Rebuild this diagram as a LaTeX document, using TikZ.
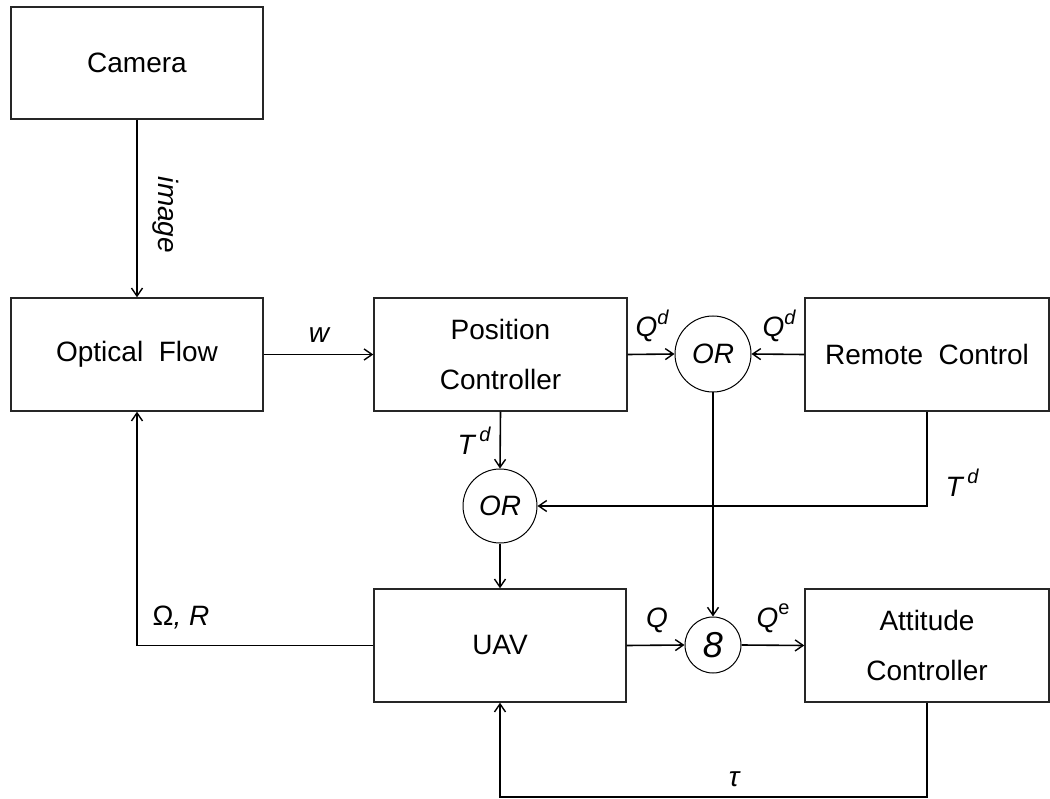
\documentclass[tikz,border=0pt]{standalone}
\usepackage{fontspec}
\setmainfont{Liberation Sans}
\usetikzlibrary{arrows.meta,calc}
\tikzset{
  blk/.style={draw=black!85, line width=1.4pt, rectangle, inner sep=0pt, align=center, font=\fontsize{28}{50}\selectfont},
  junc/.style={draw=black, line width=1pt, circle, inner sep=0pt, font=\fontsize{28}{34}\selectfont\itshape},
  lbl/.style={inner sep=0pt, font=\fontsize{28}{34}\selectfont\itshape},
  conn/.style={line width=1.6pt, -{Straight Barb[length=8pt,width=11pt,line width=1.4pt]}},
  line/.style={line width=1.6pt}
}
\newcommand{\sups}[1]{\raisebox{0.45em}{\fontsize{20}{22}\selectfont #1}}
\begin{document}
\begin{tikzpicture}[x=1pt,y=-1pt]
\useasboundingbox (0,0) rectangle (1050,799);
% blocks
\node[blk, minimum width=252pt, minimum height=112pt] (cam) at (137,63) {Camera};
\node[blk, minimum width=252pt, minimum height=113pt] (of) at (137,354.5) {Optical\ \ Flow};
\node[blk, minimum width=253pt, minimum height=113pt] (pc) at (500.5,354.5) {Position\\Controller};
\node[blk, minimum width=244pt, minimum height=113pt] (rc) at (927,354.5) {Remote\ \ Control};
\node[blk, minimum width=252pt, minimum height=113pt] (uav) at (500,645.5) {UAV};
\node[blk, minimum width=244pt, minimum height=113pt] (att) at (927,645.5) {Attitude\\Controller};
% junctions
\node[junc, minimum size=76pt] (or1) at (713,354) {OR};
\node[junc, minimum size=74pt] (or2) at (500,506) {OR};
\node[junc, minimum size=56pt, font=\fontsize{36}{40}\selectfont\itshape] (mul) at (713,645) {8};
% connectors
\draw[conn] (cam.south) -- (of.north);
\draw[conn] (of.east) -- (pc.west);
\draw[conn] (pc.east) -- (or1.west);
\draw[conn] (rc.west) -- (or1.east);
\draw[conn] (pc.south) -- (or2.north);
\draw[conn] (rc.south) |- (or2.east);
\draw[conn] (or1.south) -- (mul.north);
\draw[conn] (or2.south) -- (uav.north);
\draw[conn] (uav.east) -- (mul.west);
\draw[conn] (mul.east) -- (att.west);
\draw[conn] (uav.west) -| (of.south);
\coordinate (bot) at (927,797);
\draw[conn] (att.south) -- (bot) -| (uav.south);
% labels
\node[lbl, rotate=-90] (limg) at (166,215) {image};
\node[lbl] (lw) at (319,335) {w};
\node[lbl] (lqd1) at (652,326) {Q\sups{d}};
\node[lbl] (lqd2) at (779,326) {Q\sups{d}};
\node[lbl] (ltd1) at (474,441) {T\,\sups{d}};
\node[lbl] (ltd2) at (962,483) {T\,\sups{d}};
\node[lbl] (lom) at (181,618) {{\upshape Ω}, R};
\node[lbl] (lq) at (657,620) {Q};
\node[lbl] (lqe) at (773,618) {Q\sups{\upshape e}};
\node[lbl] (ltau) at (734,779) {τ};
\end{tikzpicture}
\end{document}
